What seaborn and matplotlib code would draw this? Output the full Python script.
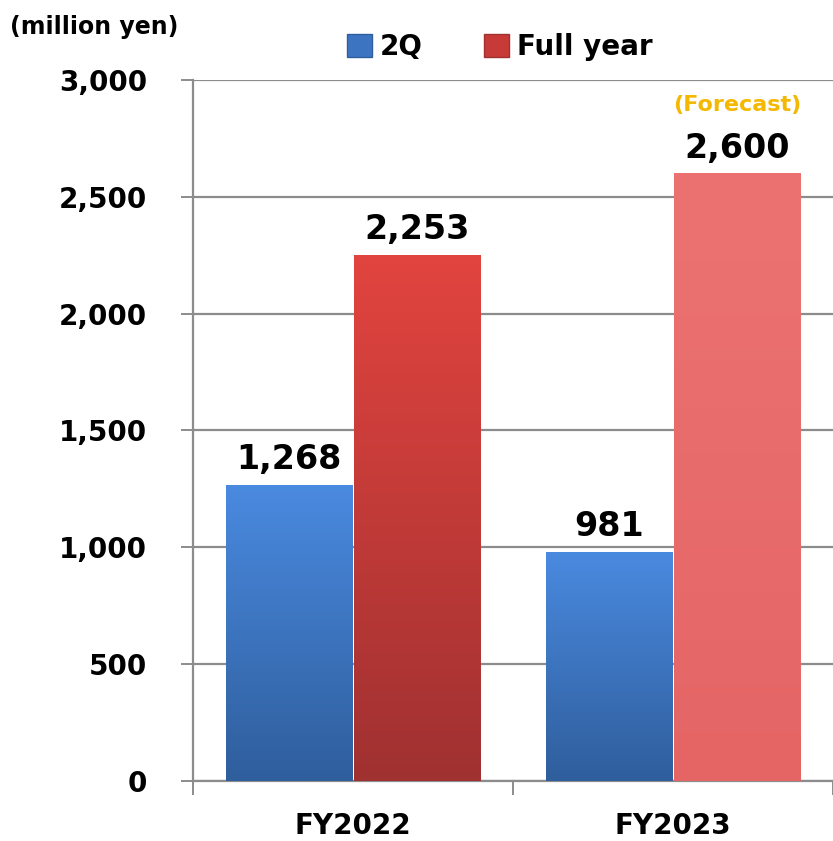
import numpy as np
import pandas as pd
import seaborn as sns
import matplotlib.pyplot as plt
from matplotlib.colors import LinearSegmentedColormap
from matplotlib.patches import Patch

# datos del gráfico
years = ["FY2022", "FY2023"]
series = ["2Q", "Full year"]
q2_values = [1268, 981]
full_values = [2253, 2600]
forecast_flags = [False, True]
yticks = [0, 500, 1000, 1500, 2000, 2500, 3000]

df = pd.DataFrame({
    "year": years * 2,
    "series": [series[0]] * 2 + [series[1]] * 2,
    "value": q2_values + full_values,
})

sns.set_style("white")
plt.rcParams["font.family"] = ["DejaVu Sans"]
plt.rcParams["text.color"] = "black"
plt.rcParams["xtick.color"] = "black"
plt.rcParams["ytick.color"] = "black"

fig = plt.figure(figsize=(8.33, 8.41), dpi=100)
ax = fig.add_axes([0.2317, 0.0714, 0.7683, 0.8335])

sns.barplot(data=df, x="year", y="value", hue="series", palette=["#3d74c2", "#c73a38"],
            width=0.8, gap=0.015, legend=False, ax=ax, zorder=3)

grad_blue = LinearSegmentedColormap.from_list("b", ["#4a8ae0", "#2f5e9c"])
grad_red = LinearSegmentedColormap.from_list("r", ["#e2443f", "#a03131"])
grad_pink = LinearSegmentedColormap.from_list("p", ["#ec7272", "#e56565"])

for i, cont in enumerate(ax.containers):
    for j, bar in enumerate(cont):
        if i == 0:
            cmap = grad_blue
        elif forecast_flags[j]:
            cmap = grad_pink
        else:
            cmap = grad_red
        x0, y0 = bar.get_x(), bar.get_y()
        w, h = bar.get_width(), bar.get_height()
        g = np.linspace(0, 1, 256).reshape(-1, 1)
        im = ax.imshow(g, extent=[x0, x0 + w, y0, y0 + h], origin="upper",
                       aspect="auto", cmap=cmap, zorder=3.5)
        im.set_clip_path(bar)
        bar.set_edgecolor("#ffffff")
        bar.set_linewidth(0.6)

ax.set_xlim(-0.5, 1.5)
ax.set_ylim(0, 3000)

# etiquetas de valores
for i, cont in enumerate(ax.containers):
    vals = q2_values if i == 0 else full_values
    ax.bar_label(cont, labels=[f"{v:,}" for v in vals], padding=6,
                 fontsize=24, fontweight="bold", color="black", zorder=5)

for j, flag in enumerate(forecast_flags):
    if flag:
        bar = ax.containers[1][j]
        ax.annotate("(Forecast)", (bar.get_x() + bar.get_width() / 2, bar.get_height()),
                    xytext=(0, 49), textcoords="offset points", ha="center", va="center",
                    fontsize=16, fontweight="bold", color="#f5b800")

# ejes y rejilla
ax.set_yticks(yticks)
ax.set_yticklabels([f"{v:,}" for v in yticks])
ax.grid(axis="y", color="#8c8c8c", linewidth=1.6, zorder=0)
ax.set_axisbelow(True)
ax.tick_params(axis="y", left=True, length=9, width=1.4, color="#8c8c8c", pad=24,
               labelsize=20, labelcolor="black")
ax.set_xticks([0, 1])
ax.set_xticklabels(years)
ax.set_xticks([-0.5, 0.5, 1.5], minor=True)
ax.tick_params(axis="x", which="major", length=0, pad=22, labelsize=20, labelcolor="black")
ax.tick_params(axis="x", which="minor", bottom=True, length=10, width=1.4, color="#8c8c8c")
for lab in ax.get_xticklabels() + ax.get_yticklabels():
    lab.set_fontweight("bold")
ax.set_xlabel("")
ax.set_ylabel("")
for s in ["top", "right"]:
    ax.spines[s].set_visible(False)
for s in ["left", "bottom"]:
    ax.spines[s].set_color("#8c8c8c")
    ax.spines[s].set_linewidth(1.6)

fig.text(0.012, 0.968, "(million yen)", fontsize=17, fontweight="bold", va="center")

handles = [Patch(facecolor="#3d74c2", edgecolor="#2f5e9c"),
           Patch(facecolor="#c73a38", edgecolor="#a03131")]
fig.legend(handles, series, loc="center", bbox_to_anchor=(0.6, 0.944), ncol=2,
           frameon=False, prop={"size": 20, "weight": "bold"},
           handlelength=0.9, handleheight=0.9, handletextpad=0.3, columnspacing=2.2)

fig.savefig("out.png", dpi=100)
